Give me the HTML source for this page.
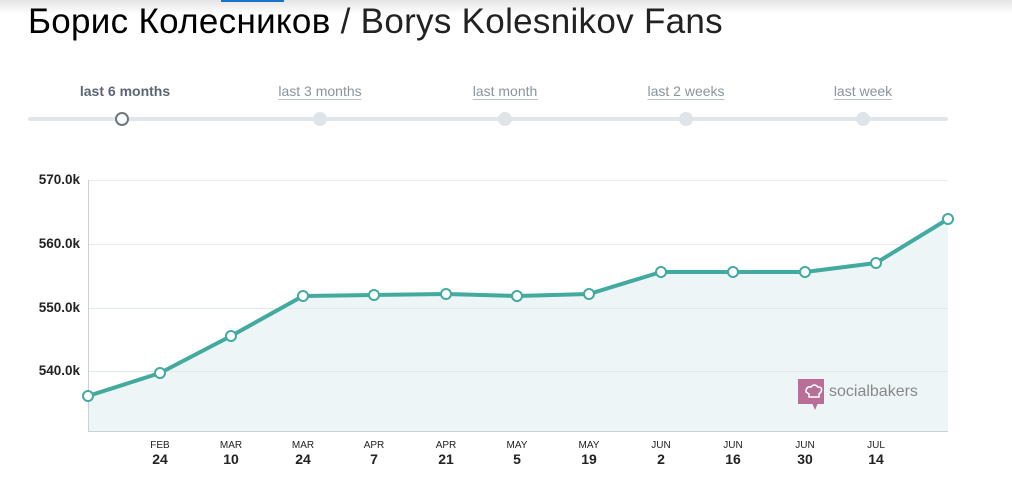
<!DOCTYPE html>
<html><head><meta charset="utf-8"><style>
body{margin:0;width:1012px;height:483px;background:#fff;overflow:hidden;font-family:"Liberation Sans",sans-serif;position:relative}
.top{position:absolute;left:0;top:0;width:1012px;height:14px;background:linear-gradient(#e4e4e4,#fff)}
.blue{position:absolute;left:221px;top:0;width:63px;height:2px;background:#1a73c8}
h1{position:absolute;left:28px;top:2px;margin:0;font-weight:normal;font-size:35px;letter-spacing:0.3px;color:#000;white-space:nowrap;font-family:"Liberation Sans","DejaVu Sans",sans-serif}
.nav{position:absolute;top:83px;font-size:14px;color:#8a949c;transform:translateX(-50%);white-space:nowrap;border-bottom:1px solid #b8c0c6;line-height:16px}
.nav.b{font-weight:bold;color:#5b6670;border:none}
</style></head><body>
<div class="top"></div><div class="blue"></div>
<h1>Борис Колесников <span style="color:#222">/ Borys Kolesnikov Fans</span></h1>
<div class="nav b" style="left:125px">last 6 months</div>
<div class="nav" style="left:320px">last 3 months</div>
<div class="nav" style="left:505px">last month</div>
<div class="nav" style="left:686px">last 2 weeks</div>
<div class="nav" style="left:863px">last week</div>
<svg width="1012" height="483" style="position:absolute;left:0;top:0" font-family="Liberation Sans, sans-serif">
<rect x="28" y="117" width="920" height="4" rx="2" fill="#e1e6ea"/>
<g fill="#dfe4e8"><circle cx="320" cy="119" r="7"/><circle cx="505" cy="119" r="7"/><circle cx="686" cy="119" r="7"/><circle cx="863" cy="119" r="7"/></g>
<circle cx="122" cy="119" r="6" fill="#fff" stroke="#6b7880" stroke-width="2"/>
<g stroke="#e6eaed" stroke-width="1"><line x1="88" y1="180.5" x2="948" y2="180.5"/><line x1="88" y1="244.5" x2="948" y2="244.5"/><line x1="88" y1="308.5" x2="948" y2="308.5"/><line x1="88" y1="371.5" x2="948" y2="371.5"/></g>
<polygon fill="#edf5f6" points="88,431 88,396 160,373 231,336 303,296 374,295 446,294 517,296 589,294 661,272 733,272 805,272 876,263 948,219 948,431"/>
<g stroke="#e0e8ea"><line x1="88" y1="371.5" x2="948" y2="371.5"/><line x1="88" y1="308.5" x2="948" y2="308.5"/></g>
<line x1="88.5" y1="180" x2="88.5" y2="432" stroke="#c9d1d8"/>
<line x1="88" y1="431.5" x2="948" y2="431.5" stroke="#c9d1d8"/>
<g font-size="13.5" font-weight="bold" fill="#222" text-anchor="end"><text x="80" y="184">570.0k</text><text x="80" y="248">560.0k</text><text x="80" y="312">550.0k</text><text x="80" y="375">540.0k</text></g>
<polyline fill="none" stroke="#42aa9e" stroke-width="4" stroke-linejoin="round" points="88,396 160,373 231,336 303,296 374,295 446,294 517,296 589,294 661,272 733,272 805,272 876,263 948,219"/>
<g fill="#fff" stroke="#42aa9e" stroke-width="2"><circle cx="88" cy="396" r="5"/><circle cx="160" cy="373" r="5"/><circle cx="231" cy="336" r="5"/><circle cx="303" cy="296" r="5"/><circle cx="374" cy="295" r="5"/><circle cx="446" cy="294" r="5"/><circle cx="517" cy="296" r="5"/><circle cx="589" cy="294" r="5"/><circle cx="661" cy="272" r="5"/><circle cx="733" cy="272" r="5"/><circle cx="805" cy="272" r="5"/><circle cx="876" cy="263" r="5"/><circle cx="948" cy="219" r="5"/></g>
<g text-anchor="middle" fill="#222">
<g font-size="10"><text x="160" y="448">FEB</text><text x="231" y="448">MAR</text><text x="303" y="448">MAR</text><text x="374" y="448">APR</text><text x="446" y="448">APR</text><text x="517" y="448">MAY</text><text x="589" y="448">MAY</text><text x="661" y="448">JUN</text><text x="733" y="448">JUN</text><text x="805" y="448">JUN</text><text x="876" y="448">JUL</text></g>
<g font-size="14" font-weight="bold"><text x="160" y="464">24</text><text x="231" y="464">10</text><text x="303" y="464">24</text><text x="374" y="464">7</text><text x="446" y="464">21</text><text x="517" y="464">5</text><text x="589" y="464">19</text><text x="661" y="464">2</text><text x="733" y="464">16</text><text x="805" y="464">30</text><text x="876" y="464">14</text></g>
</g>
<rect x="798" y="379" width="26" height="25" fill="#b96e98"/>
<polygon points="812,403 818,403 815,410" fill="#b96e98"/>
<path d="M806,392 q0,-6 5,-5 q3,-4 7,0 q5,0 3,5 l-2,2 l0,3 l-10,0 l0,-3 z" fill="none" stroke="#fff" stroke-width="1.6"/>
<text x="829" y="396" font-size="16" fill="#888">socialbakers</text>
</svg>
</body></html>
